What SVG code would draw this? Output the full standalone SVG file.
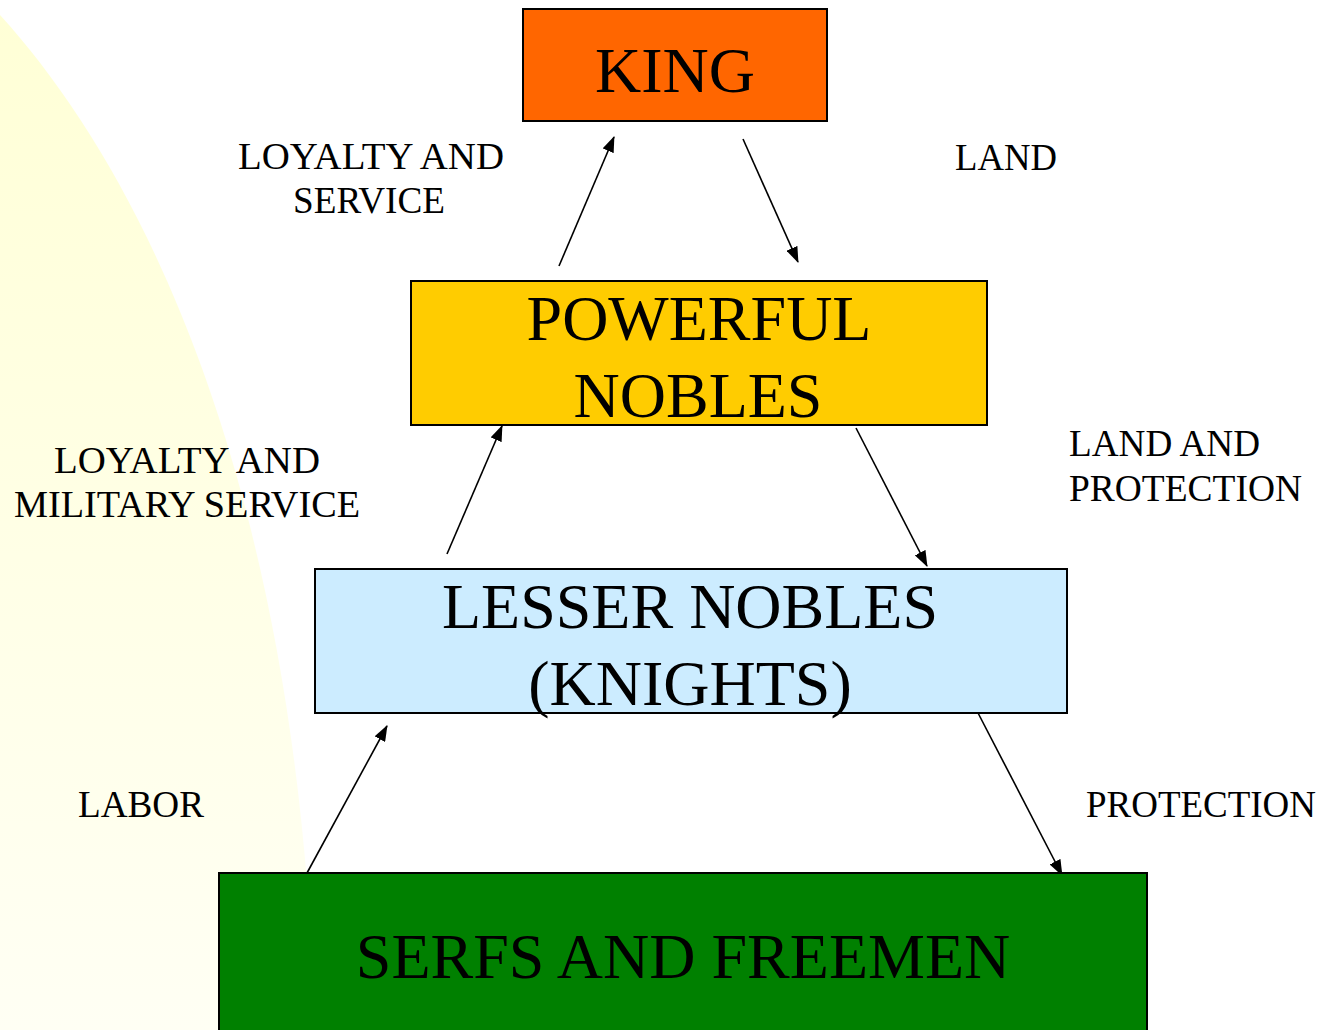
<svg xmlns="http://www.w3.org/2000/svg" width="1319" height="1030" viewBox="0 0 1319 1030">
<defs>
<linearGradient id="bg" x1="0" y1="0" x2="0" y2="1">
<stop offset="0" stop-color="#FFFFD6"/>
<stop offset="1" stop-color="#FFFFF4"/>
</linearGradient>
<marker id="ah" markerUnits="userSpaceOnUse" markerWidth="16" markerHeight="12" refX="15" refY="6" orient="auto">
<path d="M0,0 L16,6 L0,12 Z" fill="#000"/>
</marker>
<style>
.box{stroke:#000;stroke-width:2}
.big{font-family:"Liberation Serif","Times New Roman",serif;font-size:64px;fill:#000;text-anchor:middle}
.lbl{font-family:"Liberation Serif","Times New Roman",serif;font-size:37px;fill:#000}
.c{stroke:#000;stroke-width:1.6;fill:none;marker-end:url(#ah)}
</style>
</defs>
<rect width="1319" height="1030" fill="#fff"/>
<path d="M0,15 C150,180 300,500 315,1030 L0,1030 Z" fill="url(#bg)"/>
<g id="connectors">
<line class="c" x1="559" y1="266" x2="614" y2="137"/>
<line class="c" x1="743" y1="139" x2="798" y2="262"/>
<line class="c" x1="447" y1="554" x2="502" y2="426"/>
<line class="c" x1="856" y1="428" x2="927" y2="566"/>
<line class="c" x1="307" y1="873" x2="387" y2="726"/>
<line class="c" x1="977" y1="711" x2="1062" y2="875"/>
</g>
<g id="king">
<rect class="box" x="523" y="9" width="304" height="112" fill="#FF6600"/>
<text class="big" x="675" y="92">KING</text>
</g>
<g id="powerful-nobles">
<rect class="box" x="411" y="281" width="576" height="144" fill="#FFCC00"/>
<text class="big" x="699" y="340">POWERFUL</text>
<text class="big" x="698" y="417">NOBLES</text>
</g>
<g id="lesser-nobles">
<rect class="box" x="315" y="569" width="752" height="144" fill="#CCECFF"/>
<text class="big" x="690" y="628">LESSER NOBLES</text>
<text class="big" x="690" y="705">(KNIGHTS)</text>
</g>
<g id="serfs">
<rect class="box" x="219" y="873" width="928" height="170" fill="#008000"/>
<text class="big" x="683" y="978">SERFS AND FREEMEN</text>
</g>
<g id="labels">
<text class="lbl" x="238" y="169" textLength="266" lengthAdjust="spacingAndGlyphs">LOYALTY AND</text>
<text class="lbl" x="293" y="213" textLength="152" lengthAdjust="spacingAndGlyphs">SERVICE</text>
<text class="lbl" x="955" y="170" textLength="102" lengthAdjust="spacingAndGlyphs">LAND</text>
<text class="lbl" x="54" y="473" textLength="266" lengthAdjust="spacingAndGlyphs">LOYALTY AND</text>
<text class="lbl" x="14" y="517" textLength="346" lengthAdjust="spacingAndGlyphs">MILITARY SERVICE</text>
<text class="lbl" x="1069" y="456" textLength="191" lengthAdjust="spacingAndGlyphs">LAND AND</text>
<text class="lbl" x="1069" y="501" textLength="233" lengthAdjust="spacingAndGlyphs">PROTECTION</text>
<text class="lbl" x="78" y="817" textLength="126" lengthAdjust="spacingAndGlyphs">LABOR</text>
<text class="lbl" x="1086" y="817" textLength="230" lengthAdjust="spacingAndGlyphs">PROTECTION</text>
</g>
</svg>
